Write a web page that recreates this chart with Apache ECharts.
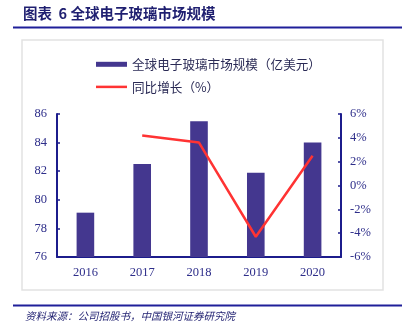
<!DOCTYPE html>
<html>
<head>
<meta charset="utf-8">
<style>
html,body{margin:0;padding:0;background:#fff;}
#chart{width:402px;height:331px;}
</style>
<script src="https://cdn.jsdelivr.net/npm/echarts@6/dist/echarts.min.js"></script>
</head>
<body>
<div id="chart"></div>
<script>
var categories = ['2016', '2017', '2018', '2019', '2020'];
var marketSize = [79.1, 82.5, 85.5, 81.9, 84.0];
var growth = [null, 4.2, 3.6, -4.3, 2.5];
var barName = '全球电子玻璃市场规模（亿美元）';
var lineName = '同比增长（%）';
var titleText = '图表  6 全球电子玻璃市场规模';
var sourceText = '资料来源：公司招股书，中国银河证券研究院';

var navy = '#1c1c8c';
var labelColor = '#2e2e8a';
var chart = echarts.init(document.getElementById('chart'));
chart.setOption({
  animation: false,
  backgroundColor: '#fff',
  graphic: [
    {type: 'text', left: 23, top: 6, style: {text: titleText, font: 'bold 14.5px "Noto Sans CJK SC"', fill: '#1f1f70'}},
    {type: 'line', shape: {x1: 13, y1: 27.5, x2: 402, y2: 27.5}, style: {stroke: '#1f1f99', lineWidth: 2}},
    {type: 'rect', shape: {x: 22, y: 40, width: 361, height: 250}, style: {fill: 'none', stroke: '#e2e2e2', lineWidth: 1.5}},
    {type: 'line', shape: {x1: 13, y1: 305.5, x2: 402, y2: 305.5}, style: {stroke: '#1f1f99', lineWidth: 2}},
    {type: 'text', left: 25, top: 311, style: {text: sourceText, font: 'italic 10.5px "Noto Sans CJK SC"', fill: '#1f1f70'}}
  ],
  legend: {
    orient: 'vertical',
    left: 91,
    top: 53,
    itemGap: 10,
    itemWidth: 31,
    itemHeight: 14,
    textStyle: {fontFamily: 'Noto Sans CJK SC', fontSize: 12.6, color: '#2a2a55'},
    data: [
      {name: barName, icon: 'path://M0,0 L31,0 L31,5 L0,5 Z'},
      {name: lineName, icon: 'path://M0,0 L31,0 L31,2.5 L0,2.5 Z', itemStyle: {color: '#ff3333'}}
    ]
  },
  grid: {left: 57, right: 61, top: 114, bottom: 74},
  xAxis: {
    type: 'category',
    data: categories,
    axisLine: {onZero: false, lineStyle: {color: navy, width: 2}},
    axisTick: {inside: true, length: 3, lineStyle: {color: navy, width: 1.5}},
    axisLabel: {color: labelColor, fontFamily: 'Liberation Serif', fontSize: 12.5, margin: 9}
  },
  yAxis: [
    {
      type: 'value', min: 76, max: 86, interval: 2,
      axisLine: {show: true, lineStyle: {color: navy, width: 2}},
      axisTick: {show: true, inside: true, length: 3, lineStyle: {color: navy, width: 1.5}},
      splitLine: {show: false},
      axisLabel: {color: labelColor, fontFamily: 'Liberation Serif', fontSize: 12.5, margin: 10}
    },
    {
      type: 'value', min: -6, max: 6, interval: 2,
      axisLine: {show: true, lineStyle: {color: navy, width: 2}},
      axisTick: {show: true, inside: true, length: 3, lineStyle: {color: navy, width: 1.5}},
      splitLine: {show: false},
      axisLabel: {color: labelColor, fontFamily: 'Liberation Serif', fontSize: 12.5, margin: 9, formatter: '{value}%'}
    }
  ],
  series: [
    {
      name: barName, type: 'bar', data: marketSize, barWidth: '31%',
      itemStyle: {color: '#44378f'}
    },
    {
      name: lineName, type: 'line', yAxisIndex: 1, data: growth,
      showSymbol: false, symbol: 'none',
      lineStyle: {color: '#ff3333', width: 2.5}, itemStyle: {color: '#ff3333'}
    }
  ]
});
</script>
</body>
</html>
